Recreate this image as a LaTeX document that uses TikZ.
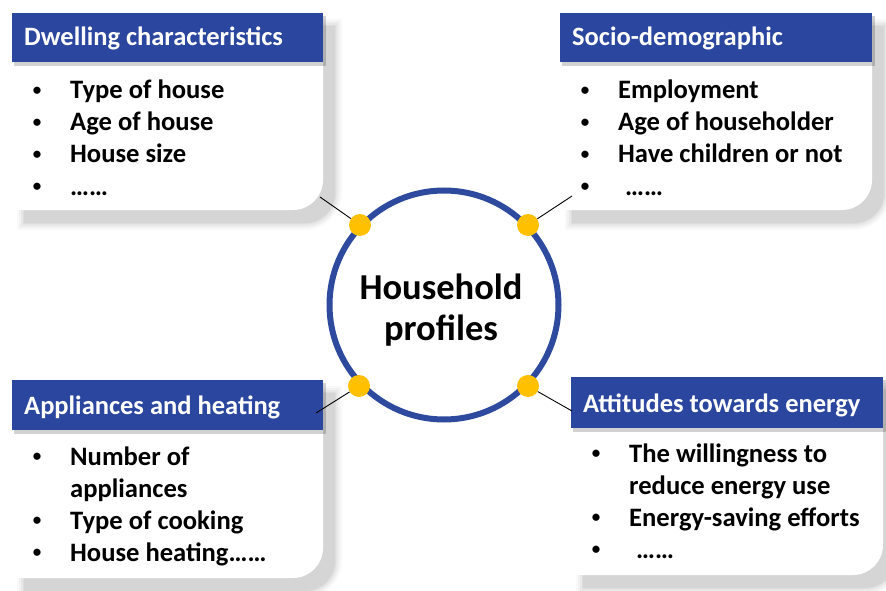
\documentclass[tikz,border=0pt]{standalone}
\usepackage{fontspec}
\setmainfont{Carlito}
\definecolor{hdrblue}{HTML}{2B469E}
\definecolor{ringblue}{HTML}{2E4A9E}
\definecolor{dotgold}{HTML}{FFC000}
\tikzset{
  hdrtext/.style={anchor=base west, text=white, inner sep=0pt, font=\bfseries\fontsize{26.5}{32}\selectfont},
  itemtext/.style={anchor=base west, inner sep=0pt, font=\bfseries\fontsize{26.6}{32}\selectfont},
  bulletmark/.style={anchor=base, inner sep=0pt, font=\bfseries\fontsize{17}{20}\selectfont},
  golddot/.style={circle, fill=dotgold, minimum size=22pt, inner sep=0pt},
  ring/.style={circle, draw=ringblue, line width=6pt, fill=white, minimum size=229pt, inner sep=0pt},
  ringtext/.style={inner sep=0pt, align=center, font=\bfseries\fontsize{36.5}{41}\selectfont},
  link/.style={draw=black, line width=0.9pt},
}
\newcommand\bul{\raisebox{3.5pt}{•}}
% #1 x1, #2 ytop, #3 x2, #4 yheader, #5 ybottom, #6 enlarge
\newcommand\cardshape[6]{%
  (#1-#6,#2-#6) -- (#3+#6,#2-#6) -- (#3+#6,#5-30) .. controls (#3+#6,#5-13.4+0.45*#6) and (#3-13.4+0.45*#6,#5+#6) .. (#3-30,#5+#6) -- (#1-#6,#5+#6) -- cycle}
\newcommand\mycard[5]{%
  \begin{scope}[shift={(12,13)}]
    \foreach \e/\o in {7/0.025,5/0.03,3/0.035,1/0.04,0/0.04}{
      \fill[black, opacity=\o] \cardshape{#1}{#2}{#3}{#4}{#5}{\e};
    }
  \end{scope}
  \fill[white] \cardshape{#1}{#2}{#3}{#4}{#5}{0};
  \fill[black, opacity=0.18] (#1+2,#2+3) rectangle (#3+3,#4+4);
  \fill[hdrblue] (#1,#2) rectangle (#3,#4);
}
\begin{document}
\begin{tikzpicture}[x=1pt, y=-1pt]
\useasboundingbox (0,0) rectangle (886,591);
\fill[white] (0,0) rectangle (886,591);

% cards
\mycard{12}{13}{323}{62}{210}
\mycard{560}{13}{872}{62}{210}
\mycard{12}{380}{323}{430}{578}
\mycard{571}{377}{883}{428}{575}

% headers
\node[hdrtext] (h1) at (24,46) {Dwelling characteristics};
\node[hdrtext] (h2) at (572,46) {Socio-demographic};
\node[hdrtext] (h3) at (24,414) {Appliances and heating};
\node[hdrtext] (h4) at (583,412) {Attitudes towards energy};

% dwelling
\node[bulletmark] (b11) at (37,99) {\bul};
\node[bulletmark] (b12) at (37,131) {\bul};
\node[bulletmark] (b13) at (37,163) {\bul};
\node[bulletmark] (b14) at (37,195) {\bul};
\node[itemtext] (t11) at (70,99) {Type of house};
\node[itemtext] (t12) at (70,131) {Age of house};
\node[itemtext] (t13) at (70,163) {House size};
\node[itemtext] (t14) at (70,195) {……};

% socio
\node[bulletmark] (b21) at (585,99) {\bul};
\node[bulletmark] (b22) at (585,131) {\bul};
\node[bulletmark] (b23) at (585,163) {\bul};
\node[bulletmark] (b24) at (585,195) {\bul};
\node[itemtext] (t21) at (618,99) {Employment};
\node[itemtext] (t22) at (618,131) {Age of householder};
\node[itemtext] (t23) at (618,163) {Have children or not};
\node[itemtext] (t24) at (625,195) {……};

% appliances
\node[bulletmark] (b31) at (37,465) {\bul};
\node[bulletmark] (b33) at (37,529) {\bul};
\node[bulletmark] (b34) at (37,561) {\bul};
\node[itemtext] (t31) at (70,465) {Number of};
\node[itemtext] (t32) at (70,497) {appliances};
\node[itemtext] (t33) at (70,529) {Type of cooking};
\node[itemtext] (t34) at (70,561) {House heating……};

% attitudes
\node[bulletmark] (b41) at (596,462) {\bul};
\node[bulletmark] (b43) at (596,526) {\bul};
\node[bulletmark] (b44) at (596,558) {\bul};
\node[itemtext] (t41) at (629,462) {The willingness to};
\node[itemtext] (t42) at (629,494) {reduce energy use};
\node[itemtext] (t43) at (629,526) {Energy-saving efforts};
\node[itemtext] (t44) at (636,558) {……};

% centre
\node[ring] (hp) at (444,305) {};
\node[ringtext] (hpl) at (441,310) {Household\\profiles};

\coordinate (e1) at (320,197);
\coordinate (e2) at (572,196);
\coordinate (e3) at (316,413);
\coordinate (e4) at (572,411);

\node[golddot] (d1) at (360,225) {};
\node[golddot] (d2) at (528,225) {};
\node[golddot] (d3) at (359,386) {};
\node[golddot] (d4) at (528,386) {};

\draw[link] (d1) -- (e1);
\draw[link] (d2) -- (e2);
\draw[link] (d3) -- (e3);
\draw[link] (d4) -- (e4);
\end{tikzpicture}
\end{document}
